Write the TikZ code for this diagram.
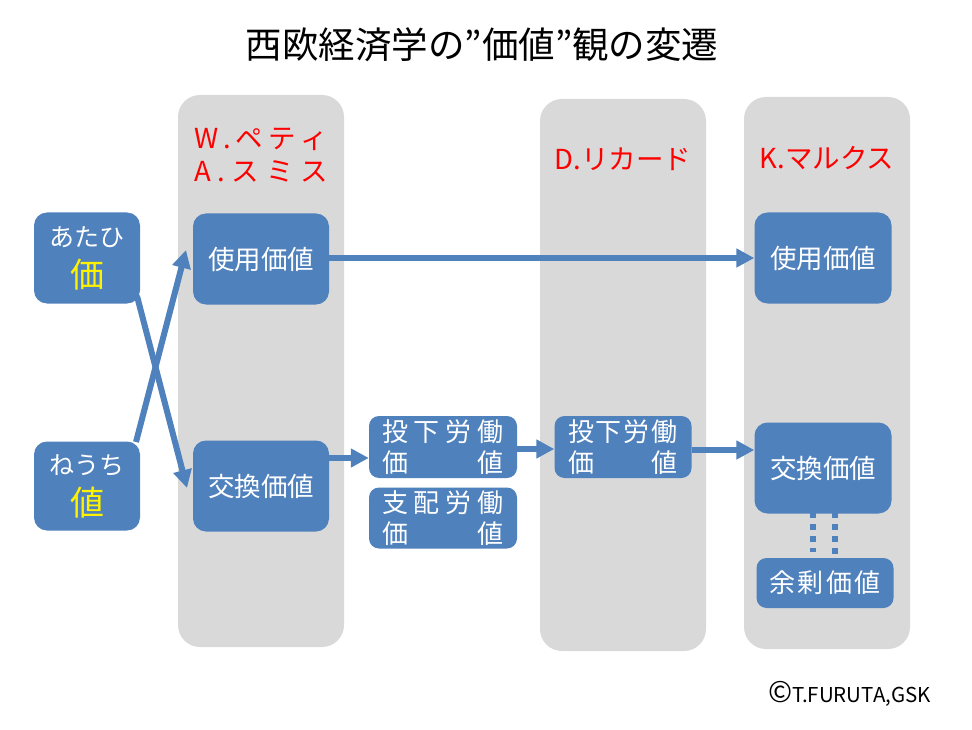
\documentclass[tikz,border=0pt]{standalone}
\usepackage{fontspec}
\setmainfont{Noto Sans CJK JP}
\usetikzlibrary{arrows.meta}
\definecolor{bb}{HTML}{4F81BD}
\definecolor{gg}{HTML}{D9D9D9}
\tikzset{x=1pt,y=-1pt,
 panel/.style={fill=gg,rounded corners=22pt,draw=none},
 box/.style={fill=bb,draw=none,rounded corners=13pt,text=white,font=\fontsize{26.5}{41}\selectfont,align=center,inner sep=0pt},
 sbox/.style={fill=bb,draw=none,rounded corners=10pt,text=white,inner sep=0pt,font=\fontsize{26}{31}\selectfont,align=center},
 hd/.style={text=red,font=\fontsize{27.5}{33}\selectfont,align=center,inner sep=0pt},
 arr/.style={draw=bb,line width=6pt,-{Triangle[length=18pt,width=18pt]}},
 dots/.style={draw=bb,line width=6pt,dash pattern=on 6pt off 6pt},
}
\newcommand{\spread}[2]{\makebox[#1pt][s]{#2}}
\begin{document}
\begin{tikzpicture}
\useasboundingbox (0,0) rectangle (972,730);
\fill[white] (0,0) rectangle (972,730);
\node[inner sep=0pt,font=\fontsize{36.5}{40}\selectfont] (title) at (482,45) {西欧経済学の”価値”観の変遷};
\node[panel,minimum width=166pt,minimum height=552pt] (p1) at (261,371) {};
\node[panel,minimum width=166pt,minimum height=552pt] (p2) at (623,375) {};
\node[panel,minimum width=166pt,minimum height=552pt] (p3) at (827,373) {};
\node[hd] (h1) at (261,155) {\spread{134}{W\hfill{}.\hfill{}ペ\hfill{}テ\hfill{}ィ}\\\spread{134}{A\hfill{}.\hfill{}ス\hfill{}ミ\hfill{}ス}};
\node[hd] (h2) at (623,159) {D.リカード};
\node[hd] (h3) at (827,158) {K.マルクス};
\node[box,minimum width=106pt,minimum height=91pt] (a) at (87,258) {\fontsize{25}{41}\selectfont あたひ\\\textcolor{yellow}{\fontsize{34}{41}\selectfont 価}};
\node[box,minimum width=106pt,minimum height=89pt] (n) at (87,486) {\fontsize{25}{41}\selectfont ねうち\\\textcolor{yellow}{\fontsize{34}{41}\selectfont 値}};
\node[box,minimum width=136pt,minimum height=91pt] (u1) at (261,259) {使用価値};
\node[box,minimum width=136pt,minimum height=91pt] (k1) at (261,486) {交換価値};
\node[box,minimum width=137pt,minimum height=91pt] (u3) at (823,258) {使用価値};
\node[box,minimum width=137pt,minimum height=91pt] (k3) at (823,468) {交換価値};
\node[sbox,minimum width=137pt,minimum height=50pt] (y) at (825,583) {\spread{112}{余\hfill{}剰\hfill{}価\hfill{}値}};
\node[sbox,minimum width=148pt,minimum height=62pt] (t1) at (443,447) {\spread{122}{投\hfill{}下\hfill{}労\hfill{}働}\\\spread{122}{価\hfill{}値}};
\node[sbox,minimum width=148pt,minimum height=61pt] (s1) at (443,518) {\spread{122}{支\hfill{}配\hfill{}労\hfill{}働}\\\spread{122}{価\hfill{}値}};
\node[sbox,minimum width=137pt,minimum height=62pt] (t2) at (623,447) {\spread{110}{投\hfill{}下\hfill{}労\hfill{}働}\\\spread{110}{価\hfill{}値}};
\coordinate (aout) at (137,296);
\coordinate (kin) at (187,488);
\coordinate (nout) at (136,442);
\coordinate (uin) at (186,250);
\draw[arr] (aout) -- (kin);
\draw[arr] (nout) -- (uin);
\draw[arr] (u1.east |- 0,258) -- (u3.west |- 0,258);
\draw[arr] (k1.east |- 0,458) -- (t1.west |- 0,458);
\draw[arr] (t1.east |- 0,449) -- (t2.west |- 0,449);
\draw[arr] (t2.east |- 0,450) -- (k3.west |- 0,450);
\draw[dots] (813,512) -- (813,552);
\draw[dots] (835,512) -- (835,556);
\node[inner sep=0pt,font=\fontsize{20.5}{24}\selectfont,anchor=east] (c) at (931,694) {{\fontsize{29}{24}\selectfont ©}T.FURUTA,GSK};
\end{tikzpicture}
\end{document}
